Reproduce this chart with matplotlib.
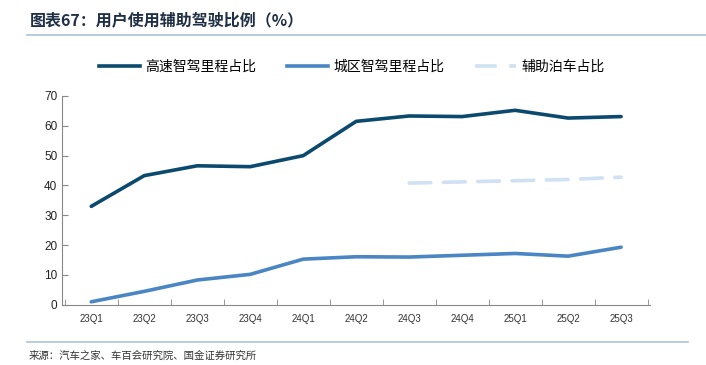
import matplotlib
matplotlib.use("Agg")
import matplotlib.pyplot as plt
from matplotlib.lines import Line2D

plt.rcParams['font.family'] = ['Noto Sans CJK SC', 'DejaVu Sans']

quarters = ["23Q1", "23Q2", "23Q3", "23Q4", "24Q1", "24Q2",
            "24Q3", "24Q4", "25Q1", "25Q2", "25Q3"]
highway = [33.0, 43.3, 46.6, 46.3, 50.0, 61.5, 63.3, 63.1, 65.2, 62.6, 63.1]
urban = [1.0, 4.5, 8.3, 10.2, 15.3, 16.1, 16.0, 16.6, 17.2, 16.3, 19.3]
parking_q = ["24Q3", "24Q4", "25Q1", "25Q2", "25Q3"]
parking = [40.8, 41.2, 41.6, 42.0, 42.8]

c_dark = "#0b4a6e"
c_mid = "#4a85c4"
c_light = "#cfe1f2"

fig = plt.figure(figsize=(7.06, 3.65), dpi=100)
ax = fig.add_axes([0.088, 0.165, 0.833, 0.572])

x = list(range(len(quarters)))
px = [quarters.index(q) for q in parking_q]
ax.plot(x, highway, color=c_dark, lw=2.6, solid_capstyle='round')
ax.plot(x, urban, color=c_mid, lw=2.6, solid_capstyle='round')
ax.plot(px, parking, color=c_light, lw=2.6, dashes=(6, 3.5), dash_capstyle='round')

ax.set_xlim(-0.55, len(quarters) - 0.45)
ax.set_ylim(0, 70)
ax.set_yticks(range(0, 71, 10))
ax.set_xticks(x)
ax.set_xticklabels(quarters, fontsize=7, color="#333333")
ax.set_xticks([i + 0.5 for i in range(-1, len(quarters))], minor=True)
ax.tick_params(axis='x', which='major', length=0, pad=7)
ax.tick_params(axis='x', which='minor', direction='in', length=4, color="#888888")
ax.tick_params(axis='y', direction='in', length=4, color="#888888",
               labelsize=8.5, labelcolor="#222222")
for lab in ax.get_yticklabels():
    lab.set_family(['Liberation Sans', 'DejaVu Sans'])
for lab in ax.get_xticklabels():
    lab.set_family(['Liberation Sans', 'DejaVu Sans'])
for s in ["top", "right"]:
    ax.spines[s].set_visible(False)
for s in ["left", "bottom"]:
    ax.spines[s].set_color("#888888")
    ax.spines[s].set_linewidth(0.8)

handles = [Line2D([], [], color=c_dark, lw=2.6),
           Line2D([], [], color=c_mid, lw=2.6),
           Line2D([], [], color=c_light, lw=2.6, dashes=(6, 3.5))]
fig.legend(handles, ["高速智驾里程占比", "城区智驾里程占比", "辅助泊车占比"],
           loc='center', bbox_to_anchor=(0.498, 0.817), ncol=3, frameon=False,
           handlelength=3.0, columnspacing=2.2, handletextpad=0.35,
           prop={'family': ['Noto Sans CJK SC'], 'weight': 'light', 'size': 10})

fig.text(0.042, 0.945, "图表67：用户使用辅助驾驶比例（%）", fontsize=11.5,
         fontweight='bold', color="#1f2f45", va='center', style='italic')
fig.add_artist(Line2D([0.038, 1.0], [0.905, 0.905], color="#a9c3dc", lw=1.2))
fig.add_artist(Line2D([0.038, 0.975], [0.062, 0.062], color="#a9c3dc", lw=1.2))
fig.text(0.04, 0.025, "来源：汽车之家、车百会研究院、国金证券研究所", fontsize=7.5,
         color="#333333", va='center')

fig.savefig("out.png", dpi=100)
